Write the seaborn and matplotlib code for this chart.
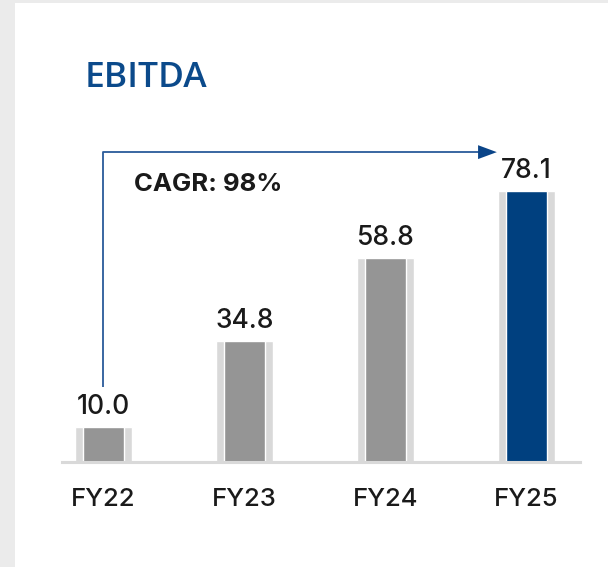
import pandas as pd
import seaborn as sns
import matplotlib.pyplot as plt
from matplotlib.patches import Rectangle

# data
years = ['FY22', 'FY23', 'FY24', 'FY25']
ebitda = [10.0, 34.8, 58.8, 78.1]
value_labels = ['10.0', '34.8', '58.8', '78.1']
bar_colors = ['#959595', '#959595', '#959595', '#00407f']
cagr_text = 'CAGR: 98%'

df = pd.DataFrame({'Year': years, 'EBITDA': ebitda})

sns.set_theme(style='white')
plt.rcParams['font.family'] = ['Inter', 'DejaVu Sans']

W, H = 608, 567
fig = plt.figure(figsize=(W / 100, H / 100), dpi=100, facecolor='#ebebeb')
# white card behind everything
fig.patches.append(Rectangle((15 / W, 0), 1 - 15 / W, 1 - 3 / H, transform=fig.transFigure,
                             facecolor='white', edgecolor='none', zorder=-10))

# axes placed so the baseline sits at y=462 px and spans x 62..580 px
ax = fig.add_axes([62 / W, (H - 462) / H, (580 - 62) / W, 400 / H])
ax.set_facecolor('none')

# light grey "shadow" bars behind the real bars
sns.barplot(data=df, x='Year', y='EBITDA', color='#d9d9d9', width=0.40,
            saturation=1, ax=ax, zorder=1)
sns.barplot(data=df, x='Year', y='EBITDA', hue='Year', palette=bar_colors, width=0.29,
            saturation=1, legend=False, ax=ax, zorder=2)

ax.set_xlim(-0.294, 3.38)
ax.set_ylim(0, 400 / 3.47)

for i, (v, lab) in enumerate(zip(ebitda, value_labels)):
    ax.annotate(lab, (i, v), xytext=(0, 5), textcoords='offset points',
                ha='center', va='bottom', fontsize=19, fontweight='medium',
                color='#1a1a1a')

# CAGR arrow
ax.plot([0, 0, 2.70], [21.6, 89.3, 89.3], color='#2a5a9a', lw=1.3, clip_on=False,
        solid_capstyle='butt')
ax.annotate('', xy=(2.79, 89.3), xytext=(2.6, 89.3),
            arrowprops=dict(arrowstyle='-|>,head_length=1.35,head_width=0.5',
                            mutation_scale=10, color='#0a4488', lw=0,
                            shrinkA=0, shrinkB=0), annotation_clip=False)
ax.text(0.74, 80.0, cagr_text, ha='center', va='center', fontsize=18.5,
        fontweight='bold', color='#1a1a1a')

sns.despine(ax=ax, left=True, top=True, right=True)
ax.spines['bottom'].set_color('#d9d9d9')
ax.spines['bottom'].set_linewidth(2.2)
ax.set_yticks([])
ax.set_xlabel('')
ax.set_ylabel('')
ax.tick_params(axis='x', length=0, pad=19, labelsize=18.5, labelcolor='#1a1a1a')
for t in ax.get_xticklabels():
    t.set_fontweight('medium')

fig.text(85 / W, 1 - 87 / H, 'EBITDA', ha='left', va='baseline', fontsize=25.5,
         fontweight='semibold', color='#0b4a8b', family=['Open Sans', 'DejaVu Sans'])

fig.savefig('out.png', dpi=100, facecolor=fig.get_facecolor())
